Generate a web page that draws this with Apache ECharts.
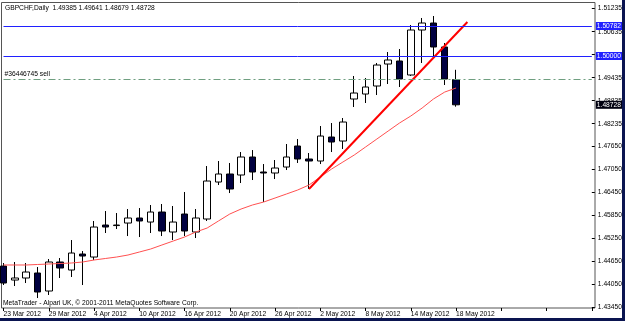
<!DOCTYPE html>
<html>
<head>
<meta charset="utf-8">
<script src="https://cdn.jsdelivr.net/npm/echarts@6/dist/echarts.min.js"></script>
<style>
  html, body { margin: 0; padding: 0; background: #fff; }
  #chart { width: 625px; height: 321px; }
</style>
</head>
<body>
<div id="chart"></div>
<script>
// GBPCHF daily bars, 23 Mar - 18 May 2012
const dates = [
  '23 Mar 2012', '26 Mar 2012', '27 Mar 2012', '28 Mar 2012', '29 Mar 2012', '30 Mar 2012',
  '2 Apr 2012', '3 Apr 2012', '4 Apr 2012', '5 Apr 2012', '6 Apr 2012', '9 Apr 2012',
  '10 Apr 2012', '11 Apr 2012', '12 Apr 2012', '13 Apr 2012', '16 Apr 2012', '17 Apr 2012',
  '18 Apr 2012', '19 Apr 2012', '20 Apr 2012', '23 Apr 2012', '24 Apr 2012', '25 Apr 2012',
  '26 Apr 2012', '27 Apr 2012', '30 Apr 2012', '1 May 2012', '2 May 2012', '3 May 2012',
  '4 May 2012', '7 May 2012', '8 May 2012', '9 May 2012', '10 May 2012', '11 May 2012',
  '14 May 2012', '15 May 2012', '16 May 2012', '17 May 2012', '18 May 2012'
]
const emptySlots = 12 // free space right of the last bar

// [open, close, low, high]
const ohlc = [
  [1.44525, 1.44082, 1.44030, 1.44604],
  [1.44160, 1.44213, 1.44004, 1.44630],
  [1.44213, 1.44369, 1.44082, 1.44604],
  [1.44343, 1.43848, 1.43691, 1.44499],
  [1.43874, 1.44630, 1.43770, 1.44708],
  [1.44630, 1.44473, 1.44213, 1.44734],
  [1.44421, 1.44864, 1.44239, 1.45203],
  [1.44838, 1.44786, 1.44030, 1.44916],
  [1.44760, 1.45542, 1.44682, 1.45699],
  [1.45594, 1.45542, 1.45386, 1.45959],
  [1.45580, 1.45594, 1.45490, 1.45907],
  [1.45646, 1.45777, 1.45307, 1.46011],
  [1.45777, 1.45699, 1.45281, 1.46037],
  [1.45672, 1.45933, 1.45386, 1.46116],
  [1.45933, 1.45438, 1.45307, 1.46142],
  [1.45412, 1.45672, 1.45203, 1.46090],
  [1.45881, 1.45438, 1.45307, 1.46455],
  [1.45412, 1.45777, 1.45255, 1.46011],
  [1.45751, 1.46741, 1.45699, 1.47132],
  [1.46715, 1.46924, 1.46637, 1.47263],
  [1.46924, 1.46533, 1.46428, 1.47211],
  [1.46898, 1.47367, 1.46689, 1.47497],
  [1.47367, 1.46976, 1.46767, 1.47549],
  [1.46976, 1.46950, 1.46194, 1.47184],
  [1.46950, 1.47080, 1.46793, 1.47289],
  [1.47106, 1.47367, 1.47028, 1.47706],
  [1.47654, 1.47315, 1.47211, 1.47836],
  [1.47315, 1.47263, 1.46533, 1.47471],
  [1.47263, 1.47914, 1.47184, 1.48175],
  [1.47888, 1.47758, 1.47497, 1.48253],
  [1.47784, 1.48279, 1.47576, 1.48384],
  [1.48879, 1.49035, 1.48670, 1.49479],
  [1.49009, 1.49192, 1.48775, 1.49426],
  [1.49218, 1.49765, 1.48983, 1.49818],
  [1.49791, 1.49896, 1.49270, 1.50104],
  [1.49870, 1.49400, 1.49192, 1.50182],
  [1.49505, 1.50678, 1.49479, 1.50808],
  [1.50678, 1.50860, 1.49818, 1.50991],
  [1.50860, 1.50235, 1.50000, 1.51043],
  [1.50235, 1.49400, 1.49244, 1.50339],
  [1.49385, 1.48728, 1.48679, 1.49641]
]

// moving average (thin red line)
const maValues = [
  1.44552, 1.44552, 1.44552, 1.44565, 1.44578, 1.44591, 1.44604, 1.44630, 1.44682, 1.44721,
  1.44760, 1.44812, 1.44890, 1.44968, 1.45073, 1.45177, 1.45281, 1.45412, 1.45516, 1.45699,
  1.45881, 1.46011, 1.46116, 1.46194, 1.46298, 1.46402, 1.46507, 1.46637, 1.46846, 1.47054,
  1.47237, 1.47419, 1.47628, 1.47836, 1.48045, 1.48253, 1.48436, 1.48644, 1.48879, 1.49061,
  1.49166
]

// hand drawn trend line: [bar index, price]
const trendLine = [[27, 1.46533], [41, 1.50886]]

const levelLines = [1.50782, 1.50000]
const orderPrice = 1.49400
const orderLabel = '#36446745 sell'
const lastPrice = 1.48728

const priceTicks = [
  1.51235, 1.50635, 1.50035, 1.49435, 1.48835, 1.48235, 1.47650,
  1.47050, 1.46450, 1.45850, 1.45250, 1.44650, 1.44050, 1.43450
]

const titleText = 'GBPCHF,Daily  1.49385 1.49641 1.48679 1.48728'
const footerText = 'MetaTrader - Alpari UK, \u00a9 2001-2011 MetaQuotes Software Corp.'

const FONT = '"Liberation Sans", sans-serif'
const FS = 6.7
const categories = dates.concat(new Array(emptySlots).fill(''))

const chart = echarts.init(document.getElementById('chart'), null, { renderer: 'canvas' })

const boxLabel = (text, bg) => ({
  position: 'end', distance: 4, formatter: text,
  backgroundColor: bg, color: '#fff', padding: [1, 1, 0, 1],
  fontFamily: FONT, fontSize: FS
})

chart.setOption({
  animation: false,
  backgroundColor: '#ffffff',
  grid: { left: 3.5, right: 30, top: 2, bottom: 13, show: false },
  xAxis: {
    type: 'category',
    data: categories,
    boundaryGap: false,
    axisLine: { show: false },
    axisTick: { show: true, interval: 3, length: 3, lineStyle: { color: '#000' } },
    axisLabel: {
      interval: 3, align: 'left', margin: 3,
      fontFamily: FONT, fontSize: FS, color: '#000'
    },
    splitLine: { show: false }
  },
  yAxis: {
    type: 'value',
    position: 'right',
    min: 1.43431,
    max: 1.51408,
    axisLine: { show: false },
    axisTick: { show: true, length: 3, customValues: priceTicks, lineStyle: { color: '#000' } },
    axisLabel: {
      customValues: priceTicks, margin: 6,
      fontFamily: FONT, fontSize: FS, color: '#000',
      formatter: (v) => v.toFixed(5)
    },
    splitLine: { show: false }
  },
  graphic: [
    { type: 'rect', z: 0, shape: { x: 1.5, y: 2.5, width: 593.5, height: 305.5 },
      style: { fill: 'none', stroke: '#555', lineWidth: 1 } },
    { type: 'rect', z: 10, shape: { x: 622, y: 0, width: 3, height: 321 }, style: { fill: '#0a1450' } },
    { type: 'rect', z: 10, shape: { x: 0, y: 318, width: 625, height: 3 }, style: { fill: '#0a1450' } },
    { type: 'text', z: 10, left: 5, top: 5,
      style: { text: titleText, font: FS + 'px ' + FONT, fill: '#000' } },
    { type: 'text', z: 10, left: 3, top: 300,
      style: { text: footerText, font: FS + 'px ' + FONT, fill: '#000' } }
  ],
  series: [
    {
      type: 'candlestick',
      data: ohlc,
      barWidth: 7,
      clip: false,
      itemStyle: {
        color: '#ffffff',
        color0: '#000040',
        borderColor: '#000000',
        borderColor0: '#000000',
        borderWidth: 1
      }
    },
    {
      type: 'line',
      data: maValues,
      symbol: 'none',
      lineStyle: { color: '#ff5050', width: 1 },
      markLine: {
        silent: true,
        symbol: 'none',
        precision: 5,
        animation: false,
        data: [
          ...levelLines.map(v => ({
            yAxis: v,
            lineStyle: { color: '#2020ff', width: 1, type: 'solid' },
            label: boxLabel(v.toFixed(5), '#2020ff')
          })),
          {
            yAxis: orderPrice,
            lineStyle: { color: '#6f9f80', width: 1, type: [7, 3, 2, 3] },
            label: {
              position: 'insideStartTop', distance: 1, formatter: orderLabel,
              color: '#000', fontFamily: FONT, fontSize: FS
            }
          },
          {
            yAxis: lastPrice,
            lineStyle: { color: 'rgba(0,0,0,0)', width: 1 },
            label: boxLabel(lastPrice.toFixed(5), '#000010')
          }
        ]
      }
    },
    {
      type: 'line',
      data: trendLine,
      symbol: 'none',
      lineStyle: { color: '#ff0000', width: 2 }
    }
  ]
})
</script>
</body>
</html>
